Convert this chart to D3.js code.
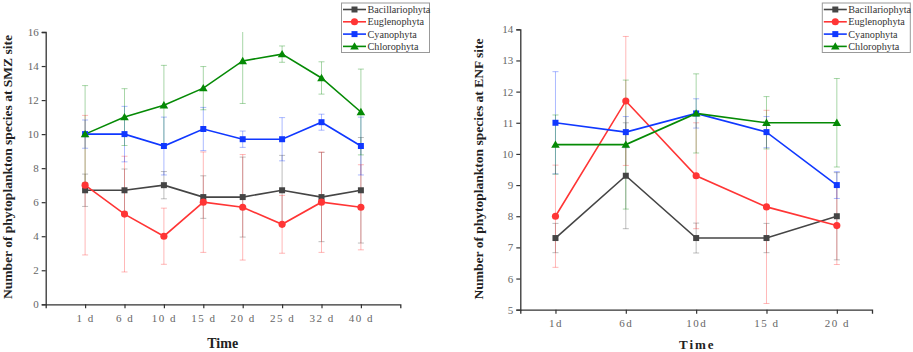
<!DOCTYPE html>
<html>
<head>
<meta charset="utf-8">
<script src="https://cdn.jsdelivr.net/npm/d3@7"></script>
<style>
    body { margin: 0; background: #fff; }
    svg { display: block; }
    .tick text { font-family: "Liberation Serif", "DejaVu Serif", serif; fill: #666; }
</style>
</head>
<body>
<svg id="chart" width="913" height="352"></svg>
<script>
const seriesNames = ["Bacillariophyta", "Euglenophyta", "Cyanophyta", "Chlorophyta"];
const seriesColors = ["#454545", "#ff3535", "#1038ff", "#058a05"];
const seriesShapes = ["square", "circle", "square", "triangle"];

// SMZ site
const smzDays = ["1 d", "6 d", "10 d", "15 d", "20 d", "25 d", "32 d", "40 d"];
const smzBac = [6.7, 6.7, 7.0, 6.3, 6.3, 6.7, 6.3, 6.7];
const smzEug = [7.0, 5.3, 4.0, 6.0, 5.7, 4.7, 6.0, 5.7];
const smzCya = [10.0, 10.0, 9.3, 10.3, 9.7, 9.7, 10.7, 9.3];
const smzChl = [10.0, 11.0, 11.7, 12.7, 14.3, 14.7, 13.3, 11.3];
const smzBacErr = [0.95, 1.25, 0.8, 1.25, 2.35, 2.05, 2.62, 3.1];
const smzEugErr = [4.1, 3.4, 1.65, 2.95, 3.1, 1.7, 2.95, 2.5];
const smzCyaErr = [0.83, 1.63, 1.7, 1.27, 0.48, 1.27, 0.47, 1.7];
const smzChlErr = [2.85, 1.67, 2.34, 1.27, 2.5, 0.48, 0.95, 2.52];
const smzTicks = [0, 2, 4, 6, 8, 10, 12, 14, 16];

// ENF site
const enfDays = ["1d", "6d", "10d", "15 d", "20 d"];
const enfBac = [7.3, 9.3, 7.3, 7.3, 8.0];
const enfEug = [8.0, 11.7, 9.3, 8.3, 7.7];
const enfCya = [11.0, 10.7, 11.3, 10.7, 9.0];
const enfChl = [10.3, 10.3, 11.3, 11.0, 11.0];
const enfBacErr = [0.47, 1.7, 0.48, 0.47, 1.4];
const enfEugErr = [1.64, 2.07, 1.7, 3.1, 1.25];
const enfCyaErr = [1.64, 0.5, 0.47, 0.5, 0.43];
const enfChlErr = [0.95, 2.07, 1.27, 0.84, 1.42];
const enfTicks = [5, 6, 7, 8, 9, 10, 11, 12, 13, 14];

const serif = '"Liberation Serif", "DejaVu Serif", serif';
const svg = d3.select("#chart");

function drawPanel(opts) {
    const g = svg.append("g");

    const x = d3.scalePoint()
        .domain(opts.days)
        .range([opts.x0, opts.x1])
        .padding(opts.pad);

    const y = d3.scaleLinear()
        .domain(opts.yDomain)
        .range([opts.yBottom, opts.yTop]);

    const series = seriesNames.map((name, i) => ({
        name: name,
        color: seriesColors[i],
        shape: seriesShapes[i],
        values: opts.values[i].map((v, j) => ({ day: opts.days[j], v: v, e: opts.errors[i][j] }))
    }));

    // error bars (faint)
    series.forEach(s => {
        const eb = g.append("g")
            .attr("stroke", s.color)
            .attr("stroke-opacity", 0.35)
            .attr("stroke-width", 1);
        s.values.forEach(d => {
            const hi = Math.min(d.v + d.e, opts.yDomain[1]);
            const lo = Math.max(d.v - d.e, opts.yDomain[0]);
            const cx = x(d.day);
            eb.append("line")
                .attr("x1", cx).attr("x2", cx)
                .attr("y1", y(hi)).attr("y2", y(lo));
            [hi, lo].forEach(val => {
                if (val === opts.yDomain[1]) return;
                eb.append("line")
                    .attr("x1", cx - 3).attr("x2", cx + 3)
                    .attr("y1", y(val)).attr("y2", y(val));
            });
        });
    });

    // axes
    const xAxis = g.append("g")
        .attr("transform", `translate(0,${opts.yBottom})`)
        .call(d3.axisBottom(x).tickSize(4).tickSizeOuter(4).tickPadding(6));
    xAxis.selectAll("text")
        .attr("font-size", 11)
        .style("white-space", "pre")
        .attr("letter-spacing", 1.5);

    const yAxis = g.append("g")
        .attr("transform", `translate(${opts.x0},0)`)
        .call(d3.axisLeft(y).tickValues(opts.ticks).tickSize(4).tickSizeOuter(4).tickPadding(3));
    yAxis.selectAll("text").attr("font-size", 11);

    [xAxis, yAxis].forEach(a => {
        a.select(".domain").attr("stroke", "#333").attr("stroke-width", 1.3);
        a.selectAll(".tick line").attr("stroke", "#333").attr("stroke-width", 1.2);
    });

    // lines
    const line = d3.line()
        .x(d => x(d.day))
        .y(d => y(d.v));

    series.forEach(s => {
        g.append("path")
            .datum(s.values)
            .attr("fill", "none")
            .attr("stroke", s.color)
            .attr("stroke-width", 1.6)
            .attr("d", line);
    });

    series.forEach(s => {
        g.append("g")
            .selectAll("path")
            .data(s.values)
            .enter().append("path")
            .attr("transform", d => `translate(${x(d.day)},${y(d.v)})`)
            .attr("d", markerPath(s.shape))
            .attr("fill", s.color);
    });

    // titles
    g.append("text")
        .attr("transform", `translate(${opts.yLabelX},${opts.yLabelY}) rotate(-90)`)
        .attr("text-anchor", "middle")
        .attr("font-family", serif)
        .attr("font-weight", "bold")
        .attr("font-size", 13.5)
        .attr("fill", "#222")
        .text(opts.yLabel);

    g.append("text")
        .attr("x", opts.timeX)
        .attr("y", opts.timeY)
        .attr("text-anchor", "middle")
        .attr("font-family", serif)
        .attr("font-weight", "bold")
        .attr("font-size", opts.timeSize)
        .attr("letter-spacing", opts.timeSpacing)
        .attr("fill", "#222")
        .text("Time");

    // legend
    const lg = g.append("g").attr("transform", `translate(${opts.legendX},3)`);
    lg.append("rect")
        .attr("width", 88)
        .attr("height", 49.5)
        .attr("fill", "#fff")
        .attr("stroke", "#999")
        .attr("stroke-width", 1);
    series.forEach((s, i) => {
        const row = lg.append("g").attr("transform", `translate(0,${6.5 + i * 12.3})`);
        row.append("line")
            .attr("x1", 1.5).attr("x2", 24.5)
            .attr("stroke", s.color)
            .attr("stroke-width", 1.6);
        row.append("path")
            .attr("transform", "translate(13,0)")
            .attr("d", markerPath(s.shape))
            .attr("fill", s.color);
        row.append("text")
            .attr("x", 26)
            .attr("y", 3.6)
            .attr("font-family", serif)
            .attr("font-size", 10.2)
            .attr("fill", "#333")
            .text(s.name);
    });
}

function markerPath(shape) {
    if (shape === "square") return "M-3,-3H3V3H-3Z";
    if (shape === "circle") return d3.symbol(d3.symbolCircle, 40)();
    return "M0,-4.2L4.3,3.2H-4.3Z";
}

drawPanel({
    days: smzDays,
    values: [smzBac, smzEug, smzCya, smzChl],
    errors: [smzBacErr, smzEugErr, smzCyaErr, smzChlErr],
    ticks: smzTicks,
    yDomain: [0, 16],
    x0: 45.7, x1: 400.3, pad: 1,
    yTop: 32, yBottom: 304.3,
    yLabel: "Number of phytoplankton species at SMZ site",
    yLabelX: 12, yLabelY: 167,
    timeX: 222.7, timeY: 348, timeSize: 14, timeSpacing: 0,
    legendX: 341.5
});

drawPanel({
    days: enfDays,
    values: [enfBac, enfEug, enfCya, enfChl],
    errors: [enfBacErr, enfEugErr, enfCyaErr, enfChlErr],
    ticks: enfTicks,
    yDomain: [5, 14],
    x0: 520.3, x1: 872, pad: 0.5,
    yTop: 29.3, yBottom: 309.7,
    yLabel: "Number of phytoplankton species at ENF site",
    yLabelX: 483, yLabelY: 169,
    timeX: 697.3, timeY: 349, timeSize: 13, timeSpacing: 2,
    legendX: 822.3
});
</script>
</body>
</html>
